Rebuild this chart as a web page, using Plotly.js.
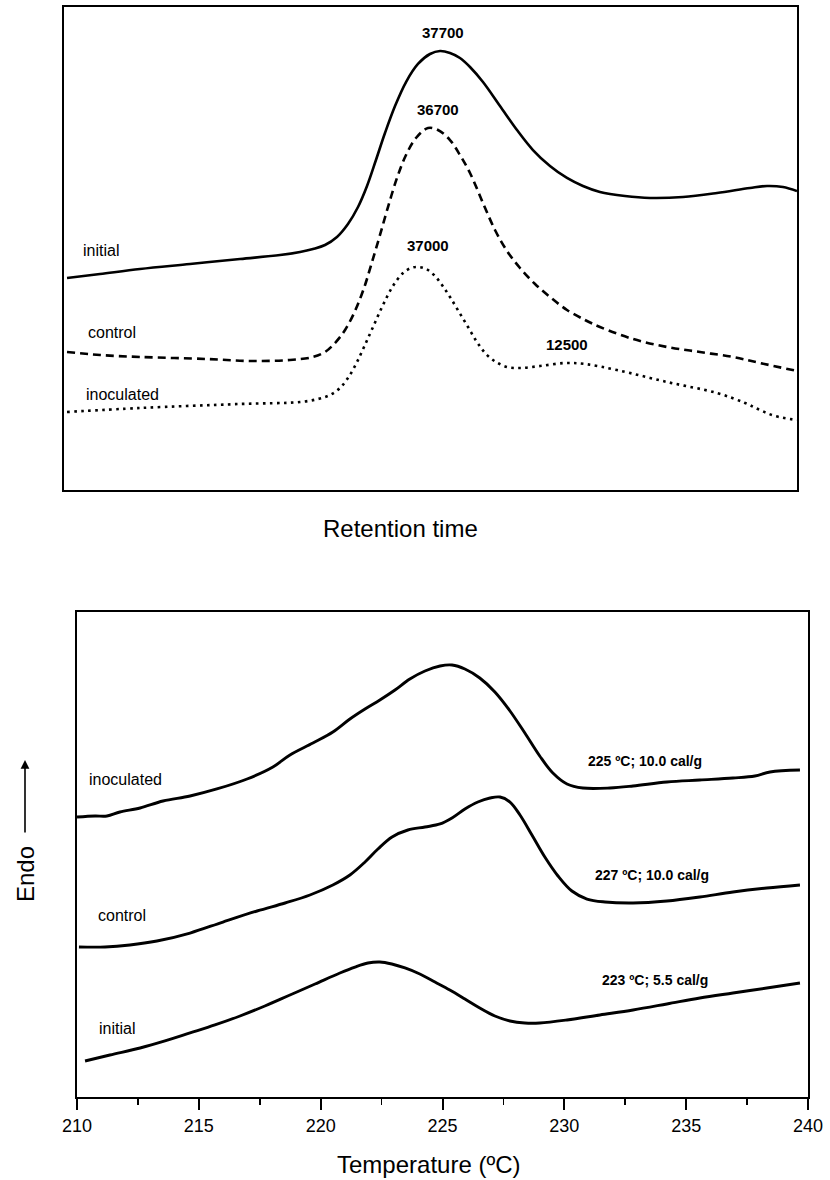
<!DOCTYPE html>
<html>
<head>
<meta charset="utf-8">
<script src="https://cdn.plot.ly/plotly-3.0.1.min.js"></script>
<style>html,body{margin:0;padding:0;background:#fff;}#chart{width:830px;height:1180px;}</style>
</head>
<body>
<div id="chart"></div>
<script>
// ---------- Top panel: GPC chromatograms (arbitrary retention time / signal units) ----------
const gpcInitialX = [0.41,4.91,10.37,17.19,24.01,29.47,32.20,33.97,35.61,37.24,38.74,40.11,41.34,42.56,43.79,45.16,46.66,48.29,49.93,51.30,52.66,54.02,55.39,57.16,59.48,61.80,63.98,66.30,68.62,70.80,73.12,76.53,79.95,84.45,89.09,93.59,95.91,98.09,100];
const gpcInitialY = [43.89,44.72,45.76,46.79,47.83,48.65,49.28,49.90,50.72,52.38,55.07,58.59,62.94,68.32,73.91,79.50,84.47,88.20,90.27,90.89,90.48,89.44,87.58,84.47,79.50,74.53,70.39,67.08,64.60,62.94,61.70,60.87,60.46,60.66,61.49,62.53,62.94,62.73,61.90];

const gpcControlX = [0.41,4.91,10.37,19.51,25.38,30.83,33.97,35.61,36.97,38.34,39.70,40.93,42.02,43.11,44.20,45.43,46.66,48.02,49.66,51.02,52.66,54.02,55.39,57.16,58.80,60.44,62.21,64.26,66.30,68.62,71.08,73.12,77.63,82.26,86.77,91.27,94.95,100];
const gpcControlY = [28.57,27.95,27.54,27.12,26.71,26.92,27.54,28.57,30.43,33.13,37.06,41.82,47.20,52.80,58.59,64.60,69.36,72.88,74.95,74.53,72.46,69.36,65.63,59.42,53.83,49.48,45.96,42.65,39.96,37.27,35.20,33.75,31.26,29.61,28.57,27.54,26.29,24.64];

const gpcInoculatedX = [0.41,10.37,24.01,32.20,34.65,36.29,37.65,38.74,39.84,40.93,42.16,43.52,44.88,46.25,47.34,48.29,49.39,50.48,51.57,52.66,53.89,55.12,56.34,57.57,58.94,60.44,62.21,64.94,68.35,71.08,75.44,82.26,89.09,92.91,94.95,97.00,100];
const gpcInoculatedY = [16.15,16.98,17.81,18.22,18.84,19.67,21.12,23.19,26.09,29.61,33.75,38.30,42.24,44.93,45.96,46.17,45.76,44.51,42.44,39.96,36.85,33.75,30.64,28.16,26.50,25.47,25.26,25.67,26.29,26.09,24.84,22.36,20.08,18.01,16.56,15.32,14.49];

const gpcSeriesNames = ["initial", "control", "inoculated"];
const gpcPeakLabels = ["37700", "36700", "37000", "12500"];

// ---------- Bottom panel: DSC thermograms ----------
const dscInoculatedT = [210.00,210.74,211.23,211.76,212.59,213.53,214.64,215.74,216.98,218.04,218.74,219.68,220.50,221.20,221.82,222.43,223.05,223.66,224.28,224.90,225.39,225.92,226.53,227.15,227.77,228.38,228.99,229.53,230.11,230.76,231.87,232.82,234.21,235.56,236.92,237.82,238.44,239.67];
const dscInoculatedY = [57.73,57.94,57.94,58.76,59.59,61.03,62.06,63.51,65.57,68.04,70.52,72.99,75.26,77.94,80.00,81.86,83.92,86.19,87.84,88.87,89.07,88.25,86.39,83.51,79.59,75.05,70.31,66.80,64.54,63.71,63.71,64.12,64.95,65.36,65.77,66.19,67.01,67.42];

const dscControlT = [210.08,211.15,212.17,213.28,214.64,215.99,217.39,218.54,219.56,220.50,221.20,221.82,222.35,222.93,223.58,224.28,224.90,225.39,225.92,226.45,226.95,227.36,227.77,228.18,228.67,229.20,229.74,230.31,230.93,231.67,232.82,234.21,235.56,236.92,238.31,239.67];
const dscControlY = [30.93,30.93,31.34,32.16,33.81,36.08,38.35,40.00,41.65,43.71,45.77,48.45,51.13,53.61,55.05,55.67,56.29,57.53,59.38,60.82,61.65,61.86,60.82,58.14,54.02,49.48,45.57,42.47,40.82,40.21,40.00,40.41,41.24,42.27,43.09,43.71];

const dscInitialT = [210.33,211.35,212.59,213.61,214.64,215.66,216.69,217.71,218.74,219.77,220.79,221.41,221.94,222.43,222.92,223.46,224.07,224.69,225.30,225.92,226.53,227.15,227.77,228.38,228.99,230.11,231.46,232.82,234.21,235.56,236.92,238.31,239.67];
const dscInitialY = [7.42,8.66,10.10,11.55,13.20,14.85,16.70,18.76,21.03,23.30,25.57,26.80,27.63,27.84,27.42,26.60,25.36,23.71,22.06,20.21,18.35,16.70,15.67,15.26,15.26,15.88,16.91,17.94,19.18,20.41,21.44,22.47,23.51];

const dscNotes = ["225 ºC; 10.0 cal/g", "227 ºC; 10.0 cal/g", "223 ºC; 5.5 cal/g"];
const tempTicks = [210, 215, 220, 225, 230, 235, 240];

// ---------- Drawing ----------
const W = 830, H = 1180;
const px = v => v / W;          // pixel -> paper x
const py = v => 1 - v / H;      // pixel -> paper y
const FONT = "Liberation Sans, Arial, Helvetica, sans-serif";
const INK = "#000000";

const sp = {shape: "spline", smoothing: 1.0};
const traces = [
  {x: gpcInitialX, y: gpcInitialY, name: gpcSeriesNames[0], xaxis: "x", yaxis: "y", mode: "lines",
   line: Object.assign({color: INK, width: 2.6}, sp)},
  {x: gpcControlX, y: gpcControlY, name: gpcSeriesNames[1], xaxis: "x", yaxis: "y", mode: "lines",
   line: Object.assign({color: INK, width: 2.6, dash: "8px,5px"}, sp)},
  {x: gpcInoculatedX, y: gpcInoculatedY, name: gpcSeriesNames[2], xaxis: "x", yaxis: "y", mode: "lines",
   line: Object.assign({color: INK, width: 2.6, dash: "2.6px,4.4px"}, sp)},
  {x: dscInoculatedT, y: dscInoculatedY, name: gpcSeriesNames[2], xaxis: "x2", yaxis: "y2", mode: "lines",
   line: Object.assign({color: INK, width: 2.9}, sp)},
  {x: dscControlT, y: dscControlY, name: gpcSeriesNames[1], xaxis: "x2", yaxis: "y2", mode: "lines",
   line: Object.assign({color: INK, width: 2.9}, sp)},
  {x: dscInitialT, y: dscInitialY, name: gpcSeriesNames[0], xaxis: "x2", yaxis: "y2", mode: "lines",
   line: Object.assign({color: INK, width: 2.9}, sp)}
];

const boxAxis = {showline: true, mirror: true, linecolor: INK, linewidth: 2, showgrid: false,
                 zeroline: false, showticklabels: false, ticks: "", fixedrange: true};

const numFont = {family: FONT, size: 15, color: INK, weight: "bold"};
const lblFont = {family: FONT, size: 16, color: INK};
const noteFont = {family: FONT, size: 14, color: INK, weight: "bold"};
const titleFont = {family: FONT, size: 24, color: INK};

const ann = (text, x, y, xref, yref, font) => ({text, x, y, xref, yref, showarrow: false, font,
                                                xanchor: "center", yanchor: "middle"});

const annotations = [
  // top panel peak values
  ann(gpcPeakLabels[0], 51.7, 94.8, "x", "y", numFont),
  ann(gpcPeakLabels[1], 51.0, 78.7, "x", "y", numFont),
  ann(gpcPeakLabels[2], 49.7, 50.6, "x", "y", numFont),
  ann(gpcPeakLabels[3], 68.6, 30.2, "x", "y", numFont),
  // top panel curve names
  ann(gpcSeriesNames[0], 5.0, 49.5, "x", "y", lblFont),
  ann(gpcSeriesNames[1], 6.5, 32.7, "x", "y", lblFont),
  ann(gpcSeriesNames[2], 8.0, 19.7, "x", "y", lblFont),
  // bottom panel curve names
  ann(gpcSeriesNames[2], 212.0, 65.4, "x2", "y2", lblFont),
  ann(gpcSeriesNames[1], 211.84, 37.5, "x2", "y2", lblFont),
  ann(gpcSeriesNames[0], 211.64, 14.2, "x2", "y2", lblFont),
  // bottom panel notes
  ann(dscNotes[0], 233.32, 69.3, "x2", "y2", noteFont),
  ann(dscNotes[1], 233.61, 45.8, "x2", "y2", noteFont),
  ann(dscNotes[2], 233.73, 24.1, "x2", "y2", noteFont),
  // axis titles
  ann("Retention time", px(400), py(528), "paper", "paper", titleFont),
  ann("Temperature (ºC)", px(428), py(1164), "paper", "paper", titleFont),
  Object.assign(ann("Endo", px(25), py(874), "paper", "paper", titleFont), {textangle: -90}),
  {text: "", x: px(25), y: py(760), xref: "paper", yref: "paper", showarrow: true,
   ax: 0, ay: 74, axref: "pixel", ayref: "pixel", arrowhead: 2, arrowsize: 1.1, arrowwidth: 1.6, arrowcolor: INK}
];

const layout = {
  width: W, height: H,
  margin: {l: 0, r: 0, t: 0, b: 0, pad: 0},
  paper_bgcolor: "#ffffff", plot_bgcolor: "#ffffff",
  showlegend: false,
  font: {family: FONT, color: INK},
  xaxis: Object.assign({}, boxAxis, {domain: [px(64), px(797)], range: [0, 100], anchor: "y"}),
  yaxis: Object.assign({}, boxAxis, {domain: [py(490), py(7)], range: [0, 100], anchor: "x"}),
  xaxis2: Object.assign({}, boxAxis, {
    domain: [px(77), px(808)], range: [210, 240], anchor: "y2",
    showticklabels: true, tickmode: "array", tickvals: tempTicks, ticktext: tempTicks.map(String),
    ticks: "outside", ticklen: 11, tickwidth: 2, tickcolor: INK,
    tickfont: {family: FONT, size: 18, color: INK},
    minor: {dtick: 2.5, tick0: 210, ticks: "outside", ticklen: 6, tickwidth: 1.6, tickcolor: INK, showgrid: false}
  }),
  yaxis2: Object.assign({}, boxAxis, {domain: [py(1097), py(612)], range: [0, 100], anchor: "x2"}),
  annotations
};

Plotly.newPlot("chart", traces, layout, {staticPlot: true, displayModeBar: false});
</script>
</body>
</html>
